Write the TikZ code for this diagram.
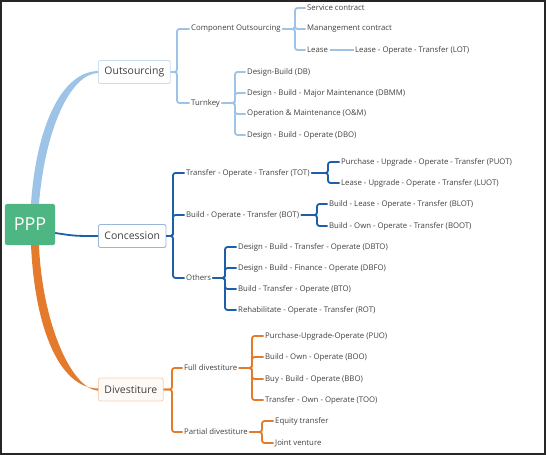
\documentclass[tikz,border=0pt]{standalone}
\usepackage{fontspec}
\setmainfont{Open Sans}
\usetikzlibrary{calc}
\definecolor{lblue}{HTML}{9DC3E6}
\definecolor{dblue}{HTML}{1F5FAA}
\definecolor{orng}{HTML}{E47B2C}
\definecolor{pppgreen}{HTML}{4DB683}
\definecolor{txt}{HTML}{404040}
\begin{document}
\begin{tikzpicture}
  [
    x=1bp, y=-1bp,
    every node/.style = {text=txt, font=\fontsize{7.8}{9}\selectfont},
    leaf/.style       = {anchor=west, inner sep=1.5bp},
    topic/.style      = {draw=#1, fill=white, rounded corners=2bp, line width=0.9bp,
                         anchor=west, minimum height=23bp, inner xsep=6bp,
                         font=\fontsize{10.5}{12}\selectfont},
    ppp/.style        = {fill=pppgreen, rounded corners=2bp, minimum width=50bp,
                         minimum height=41bp, text=white, font=\fontsize{18}{20}\selectfont},
    brace/.style      = {draw=#1, line width=1.8bp, rounded corners=2.5bp}
  ]
  \useasboundingbox (0,0) rectangle (546,455);
  \draw[line width=2bp, black!85] (1,1) rectangle (545,454);

  \node[ppp] (ppp) at (30,224.5) {PPP};
  \node[topic=lblue!55] (outs) at (98,72) {Outsourcing};
  \node[topic=dblue!45] (conc) at (98,236) {Concession};
  \node[topic=orng!35, fill=orng!4] (dive) at (98,389.5) {Divestiture};

  % Outsourcing
  \node[leaf] (comp)  at (189.5,29)  {Component Outsourcing};
  \node[leaf] (turn)  at (189.5,103) {Turnkey};
  \node[leaf] (svc)   at (305.5,8)   {Service contract};
  \node[leaf] (mgmt)  at (305.5,29)  {Manangement contract};
  \node[leaf] (lease) at (305.5,50)  {Lease};
  \node[leaf] (lot)   at (353.5,50)  {Lease - Operate - Transfer (LOT)};
  \node[leaf] (db)    at (245.5,72)  {Design-Build (DB)};
  \node[leaf] (dbmm)  at (245.5,93)  {Design - Build - Major Maintenance (DBMM)};
  \node[leaf] (om)    at (245.5,114) {Operation \& Maintenance (O\&M)};
  \node[leaf] (dbo)   at (245.5,135) {Design - Build - Operate (DBO)};

  % Concession
  \node[leaf] (tot)   at (184.5,173) {Transfer - Operate - Transfer (TOT)};
  \node[leaf] (bot)   at (184.5,215) {Build - Operate - Transfer (BOT)};
  \node[leaf] (oth)   at (184.5,278) {Others};
  \node[leaf] (puot)  at (339.5,162) {Purchase - Upgrade - Operate - Transfer (PUOT)};
  \node[leaf] (luot)  at (339.5,183) {Lease - Upgrade - Operate - Transfer (LUOT)};
  \node[leaf] (blot)  at (327.5,204) {Build - Lease - Operate - Transfer (BLOT)};
  \node[leaf] (boot)  at (327.5,226) {Build - Own - Operate - Transfer (BOOT)};
  \node[leaf] (dbto)  at (236.5,247) {Design - Build - Transfer - Operate (DBTO)};
  \node[leaf] (dbfo)  at (236.5,268) {Design - Build - Finance - Operate (DBFO)};
  \node[leaf] (bto)   at (236.5,289) {Build - Transfer - Operate (BTO)};
  \node[leaf] (rot)   at (236.5,310) {Rehabilitate - Operate - Transfer (ROT)};

  % Divestiture
  \node[leaf] (full)  at (182.5,368) {Full divestiture};
  \node[leaf] (part)  at (182.5,432) {Partial divestiture};
  \node[leaf] (puo)   at (263.5,336) {Purchase-Upgrade-Operate (PUO)};
  \node[leaf] (boo)   at (263.5,357) {Build - Own - Operate (BOO)};
  \node[leaf] (bbo)   at (263.5,379) {Buy - Build - Operate (BBO)};
  \node[leaf] (too)   at (263.5,400) {Transfer - Own - Operate (TOO)};
  \node[leaf] (eq)    at (273.5,421) {Equity transfer};
  \node[leaf] (jv)    at (273.5,443) {Joint venture};

  % main connectors
  \fill[lblue] ($(ppp.north)+(1,0)$) .. controls (36,130) and (60,72) .. ($(outs.west)+(0,-1)$)
    -- ($(outs.west)+(0,1)$) .. controls (70,74) and (45,130) .. ($(ppp.north)+(9,0)$) -- cycle;
  \fill[orng] ($(ppp.south)+(1,0)$) .. controls (35,330) and (60,388) .. ($(dive.west)+(0,-1)$)
    -- ($(dive.west)+(0,1.2)$) .. controls (70,388) and (42,320) .. ($(ppp.south)+(9,0)$) -- cycle;
  \draw[dblue, line width=1.8bp] ($(ppp.east)+(0,8.5)$) .. controls (75,236) .. (conc.west);

  % brackets
  \foreach \p/\jx/\cs in {outs/177/{comp,turn}, comp/295/{svc,mgmt,lease}, turn/235/{db,dbmm,om,dbo}}
    \foreach \c in \cs
      \draw[brace=lblue] (\p.east) -- (\p.east -| \jx,0) |- (\c.west);
  \draw[brace=lblue] (lease.east) -- (lot.west);
  \foreach \p/\jx/\cs in {conc/173/{tot,bot,oth}, tot/328/{puot,luot}, bot/317/{blot,boot}, oth/225/{dbto,dbfo,bto,rot}}
    \foreach \c in \cs
      \draw[brace=dblue] (\p.east) -- (\p.east -| \jx,0) |- (\c.west);
  \foreach \p/\jx/\cs in {dive/172/{full,part}, full/252/{puo,boo,bbo,too}, part/262/{eq,jv}}
    \foreach \c in \cs
      \draw[brace=orng] (\p.east) -- (\p.east -| \jx,0) |- (\c.west);
\end{tikzpicture}
\end{document}
